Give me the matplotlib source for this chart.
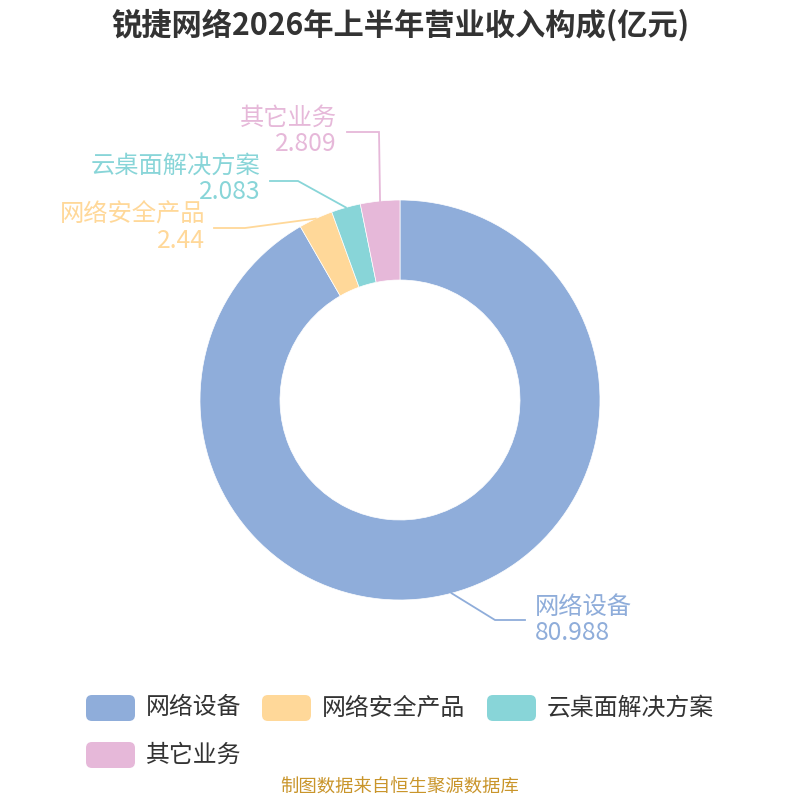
import matplotlib
matplotlib.use("Agg")
import matplotlib.pyplot as plt
import numpy as np
from matplotlib.patches import FancyBboxPatch

plt.rcParams['font.family'] = ['Noto Sans CJK SC', 'DejaVu Sans']

categories = ['网络设备', '网络安全产品', '云桌面解决方案', '其它业务']
values = [80.988, 2.44, 2.083, 2.809]
value_labels = ['80.988', '2.44', '2.083', '2.809']
colors = ['#8FADDA', '#FFD899', '#88D5D8', '#E6B8D9']
title = '锐捷网络2026年上半年营业收入构成(亿元)'
source = '制图数据来自恒生聚源数据库'

H = 800
def Y(p):
    return H - p

fig = plt.figure(figsize=(8, 8), dpi=100)
ax = fig.add_axes([0, 0, 1, 1])
cx, cy, R = 400, Y(400), 200
wedges, _ = ax.pie(values, colors=colors, startangle=90, counterclock=False,
                   radius=R, center=(cx, cy),
                   wedgeprops=dict(width=80, edgecolor='white', linewidth=0.5))
ax.set_xlim(0, 800)
ax.set_ylim(0, 800)
ax.set_aspect('equal')
ax.axis('off')

# label layout: (elbow x, elbow y, end x, text x, name y, value y, align)
layout = [
    (495, 620, 525, 535, 607, 633, 'left'),
    (245, 228, 214, 205, 215, 241, 'right'),
    (298, 181, 270, 260, 166, 192, 'right'),
    (379, 132, 347, 337, 118, 144, 'right'),
]
for w, name, val, col, lay in zip(wedges, categories, value_labels, colors, layout):
    mid = np.deg2rad((w.theta1 + w.theta2) / 2)
    sx, sy = cx + R * np.cos(mid), cy + R * np.sin(mid)
    ex, ey, endx, tx, ny, vy, ha = lay
    ax.plot([sx, ex, endx], [sy, Y(ey), Y(ey)], color=col, lw=1.3,
            solid_joinstyle='miter')
    ax.text(tx, Y(ny), name, color=col, fontsize=17.5, ha=ha, va='center')
    ax.text(tx, Y(vy), val, color=col, fontsize=17.8, ha=ha, va='center')

# legend
leg_pos = [(86, 708), (262, 708), (487, 708), (86, 755)]
for name, col, (lx, ly) in zip(categories, colors, leg_pos):
    box = FancyBboxPatch((lx, Y(ly) - 13), 49, 26,
                         boxstyle='round,pad=0,rounding_size=6',
                         facecolor=col, edgecolor='none')
    ax.add_patch(box)
    ax.text(lx + 60, Y(ly), name, color='#333333', fontsize=17.2,
            ha='left', va='center')

ax.text(400, Y(25), title, color='#333333', fontsize=21.8, fontweight='bold',
        ha='center', va='center')
ax.text(400, Y(788), source, color='#C9952B', fontsize=13.2,
        ha='center', va='center')

fig.savefig('out.png', dpi=100)
